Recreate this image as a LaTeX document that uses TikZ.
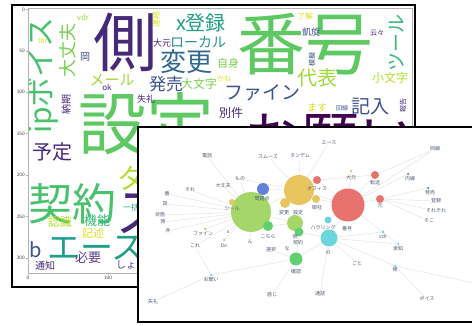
\documentclass[tikz,border=0pt]{standalone}
\usepackage{fontspec}
\newfontfamily\jp{Noto Sans CJK JP}

\pgfdeclarelayer{cloud}
\pgfdeclarelayer{links}
\pgfsetlayers{cloud,links,main}

\definecolor{vpurple}{RGB}{68,1,84}
\definecolor{vindigo}{RGB}{72,40,120}
\definecolor{vviolet}{RGB}{92,60,140}
\definecolor{vblue}{RGB}{59,82,139}
\definecolor{vsteel}{RGB}{49,104,142}
\definecolor{vteal}{RGB}{38,145,140}
\definecolor{vcyan}{RGB}{31,158,137}
\definecolor{vgreen}{RGB}{53,183,121}
\definecolor{vgreen2}{RGB}{74,193,109}
\definecolor{vlime}{RGB}{94,201,98}
\definecolor{vlight}{RGB}{122,209,81}
\definecolor{vyg}{RGB}{160,218,57}
\definecolor{vyg2}{RGB}{181,222,43}
\definecolor{vyel}{RGB}{216,226,25}

\definecolor{nlight}{RGB}{164,214,106}
\definecolor{ngreen}{RGB}{96,208,112}
\definecolor{nyel}{RGB}{232,196,94}
\definecolor{nred}{RGB}{232,114,110}
\definecolor{nteal}{RGB}{108,214,222}
\definecolor{nblue}{RGB}{100,128,216}
\definecolor{nlbl}{RGB}{80,92,120}

\tikzset{
	word/.style={font=\jp\fontsize{#1}{#1}\selectfont, inner sep=0pt},
	spine/.style={draw=black!30, line width=0.5pt},
	tick/.style={font=\sffamily\fontsize{5}{5}\selectfont, text=black!75, inner sep=1pt},
	bub/.style={circle, inner sep=0pt, minimum size=#1},
	lbl/.style={font=\jp\fontsize{5}{5}\selectfont, text=nlbl, inner sep=0.5pt},
	link/.style={draw=black!12, line width=0.4pt}
}

\begin{document}
\begin{tikzpicture}[x=1pt,y=-1pt]
	\useasboundingbox (0,0) rectangle (472,326);

	\begin{pgfonlayer}{cloud}
	\fill[white] (0,0) rectangle (472,326);
	% word cloud
	\draw[line width=2pt, fill=white] (12,5) rectangle (415,287);
	\begin{scope}
		\clip (28,8) rectangle (412,273);
		\foreach \px/\py/\fs/\col/\rot/\txt [count=\i] in {
			125/42/64/vindigo/0/側, 305/44/68/vlime/0/番号, 146/124/68/vlime/0/設定,
			330/140/58/vpurple/0/お願い, 72/204/44/vgreen2/0/契約, 96/248/33/vcyan/0/エース,
			43/76/30/vgreen2/90/ipボイス, 68/51/18/vlight/90/大丈夫, 186/62/26/vsteel/0/変更,
			201/23/20/vcyan/0/x登録, 162/43/9/vindigo/0/大元, 198/42/14/vteal/0/ローカル,
			112/80/15/vyg/0/メール, 107/87/8/vindigo/0/ok, 85/57/10/vblue/0/岡,
			166/84/17/vblue/0/発売, 199/84/12/vlight/0/大文字, 146/99/9/vindigo/0/失礼,
			228/63/11/vlight/0/自身, 224/79/7/vyel/0/かね, 231/113/12/vindigo/0/別件,
			262/93/19/vblue/0/ファイン, 317/78/20/vyg/0/代表, 390/78/12/vyg2/0/小文字,
			317/108/10/vyel/0/ます, 342/108/6/vblue/0/回線, 370/107/19/vblue/0/記入,
			305/16/8/vyel/0/了解, 311/32/9/vblue/0/凱旋, 377/33/7/vindigo/0/云々,
			397/43/19/vgreen/90/ツール, 403/106/7/vindigo/90/報告, 312/60/7/vblue/90/模擬,
			52/152/20/vindigo/0/予定, 83/17/8/vyg/0/vdr, 43/41/7/vyel/0/lbr,
			156/20/8/vyel/90/連絡, 66/105/10/vindigo/90/納期, 60/222/12/vyg2/0/認識,
			97/221/13/vgreen/0/機能, 93/233/11/vyel/0/記述, 36/250/20/vblue/0/b,
			88/258/13/vviolet/0/必要, 45/266/10/vindigo/0/通知, 131/265/10/vviolet/0/しょう,
			132/178/28/vyg2/0/ダ, 143/214/55/vindigo/0/ス, 131/207/8/vcyan/0/一括}
			\node[word=\fs, text=\col, rotate=\rot] (w\i) at (\px,\py) {\txt};
	\end{scope}
	\draw[spine] (28,8) rectangle (412,273);
	\foreach \v [count=\k] in {0,50,...,300} {
		\draw[spine] (26,9.5+0.828*\v) -- (28,9.5+0.828*\v);
		\node[tick, anchor=east] (ytick\k) at (26,9.5+0.828*\v) {\v};
	}
	\foreach \v [count=\k] in {0,100} {
		\draw[spine] (28+0.8*\v,273) -- (28+0.8*\v,275);
		\node[tick, anchor=north] (xtick\k) at (28+0.8*\v,275) {\v};
	}

	% network panel
	\draw[line width=2pt, fill=white] (138,127) rectangle (480,322);
	\end{pgfonlayer}

	% bubbles
	\foreach \n/\px/\py/\d/\col in {
		gbig/251/212/40/nlight, ybig/299/190/30/nyel, rbig/348/205/33/nred,
		tbig/329/238/17/nteal, gmid/295/223/16/nlight, ga/268/226/10/ngreen,
		gb/299/232/9/ngreen, gc/296/259/13/ngreen, blu/263/189/12/nblue,
		ys1/285/203/10/nyel, ys2/316/199/8/nyel, yt/232/202/6/nyel,
		rs1/317/180/8/nred, rs2/375/175/8/nred, rs3/380/199/8/nred, ts/328/220/7/nteal,
		ddaigen/351/171/2.5/nyel, dfain/205/229/2.5/nlight, ddo/224/240/2.5/nlight,
		donegai/211/275/2.5/nteal, dvdr/383/232/3/nteal, dsama/395/266/2.5/nteal,
		dnaisen/408/174/2.5/nblue, dhatsu/428/188/2.5/nblue, dshochi/398/244/2.5/nteal}
		\node[bub=\d, fill=\col] (\n) at (\px,\py) {};
	\coordinate (offr) at (474,283);

	% labels
	\foreach \n/\px/\py/\txt in {
		denwa/207/156/電話, sumuzu/268/156/スムーズ, tandemu/300/156/タンデム,
		esu/329/143/エース, kaisen/435/149/回線, mono/240/179/もの, sore/190/190/それ,
		daijobu/223/186/大丈夫, mondai/262/199/問題点, ban/167/194/番, hanashi/165/204/話,
		jotai/160/215/状態, toki/163/222/時, tsuru/232/209/ツール, ofisu/317/189/オフィス,
		onsha/317/208/御社, henko/284/213/変更, settei/298/213/設定, daigen/351/178/大元,
		tenso/375/183/転送, naisen/410/179/内線, hatsu/430/193/発売, moto/380/206/元,
		toroku/436/201/登録, sorezore/436/211/それぞれ, soko/429/221/そこ,
		kochira/268/237/こちら, gawa/295/237/側, keiyaku/298/243/契約, kakunin/296/272/確認,
		hauringu/323/228/ハウリング, bango/347/229/番号, vdr/383/237/vdr, shochi/398/249/承知,
		no/328/253/の, goto/357/263/ごと, sama/395/270/様, tsuwa/320/294/通話,
		boisu/427/299/ボイス, ii/168/231/井, fain/203/234/ファイン, ekkusu/228/232/x,
		kore/195/246/これ, do/224/246/Do, n/250/242/ん, sentaku/271/250/選択, na/287/249/な,
		onegai/211/280/お願い, kanji/272/295/感じ, shitsurei/153/302/失礼}
		\node[lbl] (\n) at (\px,\py) {\txt};

	\begin{pgfonlayer}{links}
	\foreach \a/\b in {
		gbig/denwa, gbig/sore, gbig/ban, gbig/hanashi, gbig/jotai, gbig/toki, gbig/ii,
		gbig/dfain, gbig/ekkusu, gbig/ddo, gbig/kore, gbig/n, gbig/daijobu, gbig/mono,
		gbig/yt, gbig/blu, gbig/ga, gbig/gmid, gbig/ybig,
		ybig/sumuzu, ybig/tandemu, ybig/esu, ybig/mono, ybig/ys1, ybig/ys2, ybig/rs1,
		ybig/gmid, ybig/rbig, ybig/blu,
		rbig/kaisen, rbig/ddaigen, rbig/rs2, rbig/dnaisen, rbig/rs3, rbig/ts, rbig/tbig,
		rbig/dshochi, rbig/rs1, rbig/ys2, rs2/rs1, rs2/kaisen,
		rs3/dhatsu, rs3/toroku, rs3/sorezore, rs3/soko,
		tbig/tsuwa, tbig/dvdr, tbig/dshochi, tbig/goto, tbig/dsama, tbig/gb, tbig/gc, tbig/no,
		dsama/boisu, dsama/offr, gc/donegai, gc/kanji, gc/gb, gc/sentaku,
		donegai/shitsurei, donegai/kore, gmid/gb, gmid/ga}
		\draw[link] (\a) -- (\b);
	\end{pgfonlayer}
\end{tikzpicture}
\end{document}
